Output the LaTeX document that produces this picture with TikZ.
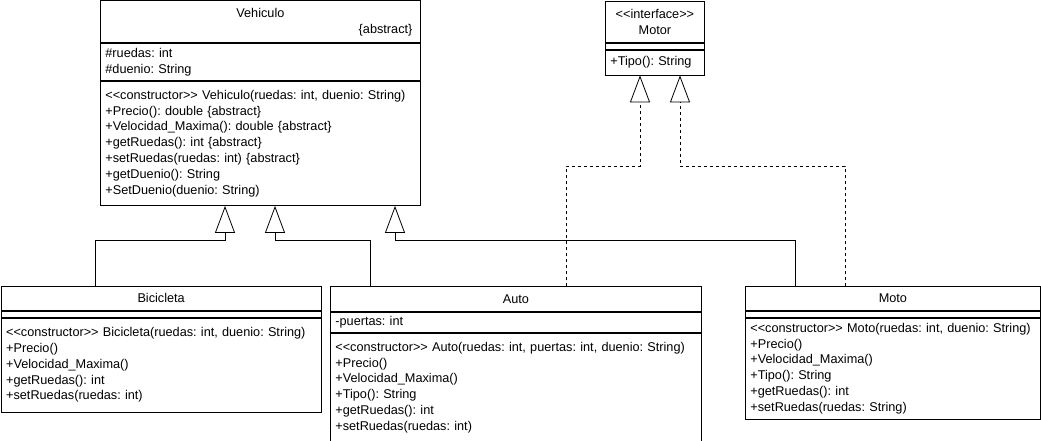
\documentclass[tikz,border=0pt]{standalone}
\usepackage{fontspec}
\setmainfont{Liberation Sans}
\frenchspacing
\usetikzlibrary{arrows.meta, positioning}
\newcommand\umlfont{\fontsize{12.7}{15.8}\selectfont}
\newcommand\stereo[1]{\textless\kern0pt\textless\kern0pt#1\kern0pt\textgreater\kern0pt\textgreater}
\tikzstyle{classname} = [rectangle, draw, align=center, inner sep=0pt, font=\umlfont]
\tikzstyle{members} = [rectangle, draw, align=left, inner xsep=5pt, inner ysep=0pt, font=\umlfont]
\tikzstyle{inherit} = [-{Triangle[open, length=27pt, width=20pt]}]
\tikzstyle{realize} = [inherit, dash pattern=on 3pt off 3pt]

\begin{document}
\begin{tikzpicture}[x=1pt, y=-1pt, line width=0.8pt]
  \useasboundingbox (0,0) rectangle (1041,441);
  % Vehiculo
  \node[classname, anchor=north west, minimum width=320pt, minimum height=42pt, text width=304pt] (vehH) at (100,0.5) {Vehiculo\\\hfill\{abstract\}};
  \node[members, below=0pt of vehH, minimum width=320pt, text width=310pt, minimum height=37pt] (vehA) {\#ruedas: int\\\#duenio: String};
  \node[members, below=0pt of vehA, minimum width=320pt, text width=310pt, minimum height=124pt] (vehM) {\stereo{constructor} Vehiculo(ruedas: int, duenio: String)\\+Precio(): double \{abstract\}\\+Velocidad\_Maxima(): double \{abstract\}\\+getRuedas(): int \{abstract\}\\+setRuedas(ruedas: int) \{abstract\}\\+getDuenio(): String\\+SetDuenio(duenio: String)};

  % Motor
  \node[classname, anchor=north west, minimum width=99pt, minimum height=41pt] (motH) at (605,1) {\stereo{interface}\\Motor};
  \node[members, below=0pt of motH, minimum width=99pt, minimum height=6pt] (motA) {};
  \node[members, below=0pt of motA, minimum width=99pt, text width=89pt, minimum height=25pt] (motM) {+Tipo(): String};

  % Bicicleta
  \node[classname, anchor=north west, minimum width=320.5pt, minimum height=24pt] (bicH) at (0.5,286) {Bicicleta};
  \node[members, below=0pt of bicH, minimum width=320.5pt, minimum height=6pt] (bicA) {};
  \node[members, below=0pt of bicA, minimum width=320.5pt, text width=310pt, minimum height=94pt] (bicM) {\stereo{constructor} Bicicleta(ruedas: int, duenio: String)\\+Precio()\\+Velocidad\_Maxima()\\+getRuedas(): int\\+setRuedas(ruedas: int)};

  % Auto
  \node[classname, anchor=north west, minimum width=371pt, minimum height=25pt] (autoH) at (330,286) {Auto};
  \node[members, below=0pt of autoH, minimum width=371pt, text width=361pt, minimum height=20pt] (autoA) {-puertas: int};
  \node[members, below=0pt of autoA, minimum width=371pt, text width=361pt, minimum height=109pt] (autoM) {\stereo{constructor} Auto(ruedas: int, puertas: int, duenio: String)\\+Precio()\\+Velocidad\_Maxima()\\+Tipo(): String\\+getRuedas(): int\\+setRuedas(ruedas: int)};

  % Moto
  \node[classname, anchor=north west, minimum width=295pt, minimum height=24pt] (motoH) at (745,286) {Moto};
  \node[members, below=0pt of motoH, minimum width=295pt, minimum height=6pt] (motoA) {};
  \node[members, below=0pt of motoA, minimum width=295pt, text width=285pt, minimum height=101pt] (motoM) {\stereo{constructor} Moto(ruedas: int, duenio: String)\\+Precio()\\+Velocidad\_Maxima()\\+Tipo(): String\\+getRuedas(): int\\+setRuedas(ruedas: String)};

  % herencia
  \draw[inherit] ([xshift=95pt]bicH.north west) -- ++(0,-46) -| ([xshift=125pt]vehM.south west);
  \draw[inherit] ([xshift=40pt]autoH.north west) -- ++(0,-46) -| ([xshift=175pt]vehM.south west);
  \draw[inherit] ([xshift=50pt]motoH.north west) -- ++(0,-46) -| ([xshift=295pt]vehM.south west);
  % interfaz
  \draw[realize] ([xshift=236pt]autoH.north west) -- ++(0,-120) -| ([xshift=35pt]motM.south west);
  \draw[realize] ([xshift=100pt]motoH.north west) -- ++(0,-120) -| ([xshift=75pt]motM.south west);
\end{tikzpicture}
\end{document}
